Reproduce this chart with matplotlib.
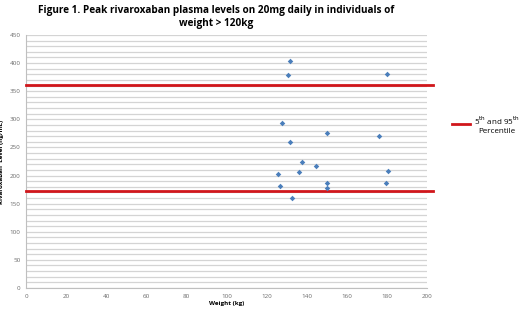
import matplotlib
matplotlib.use("Agg")
import matplotlib.pyplot as plt
from matplotlib.lines import Line2D

weight = [131.7, 130.8, 179.9, 127.7, 150.0, 175.9, 131.5, 137.8, 144.8,
          125.8, 136.0, 180.7, 150.0, 179.7, 126.8, 150.0, 132.8]
level = [404, 378, 381, 294, 275, 270, 260, 224, 217,
         203, 206, 208, 187, 187, 182, 177, 160]
percentiles = [173, 361]
x_ticks = list(range(0, 201, 20))
y_ticks = list(range(0, 451, 50))

plt.rcParams['font.family'] = ['Open Sans', 'DejaVu Sans']

fig = plt.figure(figsize=(5.2, 3.12), dpi=100)
ax = fig.add_axes([0.05, 0.077, 0.771, 0.811])

ax.set_xlim(0, 200)
ax.set_ylim(0, 450)
ax.set_yticks(y_ticks)
ax.set_xticks(x_ticks)
ax.set_yticks(range(0, 451, 10), minor=True)
ax.grid(True, axis='y', which='both', color='#d4d4d4', linewidth=0.9)
ax.set_axisbelow(True)
ax.tick_params(axis='both', which='both', length=0, labelsize=4.5, colors='#6b6b6b', pad=4)
for s in ['top', 'right']:
    ax.spines[s].set_visible(False)
for s in ['left', 'bottom']:
    ax.spines[s].set_color('#bfbfbf')
    ax.spines[s].set_linewidth(0.8)

for p in percentiles:
    ax.plot([0, 203], [p, p], color='#d0161b', linewidth=2.0, clip_on=False, zorder=3)

ax.scatter(weight, level, marker='D', s=8, color='#4a7ebb', zorder=4, linewidths=0)

ax.set_xlabel('Weight (kg)', fontsize=4.5, fontweight='bold', labelpad=2)
ax.set_ylabel('Rivaroxaban  Level (ng/mL)', fontsize=4.5, fontweight='bold', labelpad=4)

fig.text(0.415, 0.985, 'Figure 1. Peak rivaroxaban plasma levels on 20mg daily in individuals of\nweight > 120kg',
         ha='center', va='top', fontsize=7.2, fontweight='bold', linespacing=1.3)

handle = Line2D([0], [0], color='#d0161b', linewidth=2.0)
leg = fig.legend([handle], ['5$^{\\rm th}$ and 95$^{\\rm th}$\nPercentile'],
                 loc='center left', bbox_to_anchor=(0.855, 0.60), frameon=False,
                 fontsize=5.8, handlelength=2.2, handletextpad=0.5)
for t in leg.get_texts():
    t.set_multialignment('center')

fig.savefig('out.png', dpi=100)
